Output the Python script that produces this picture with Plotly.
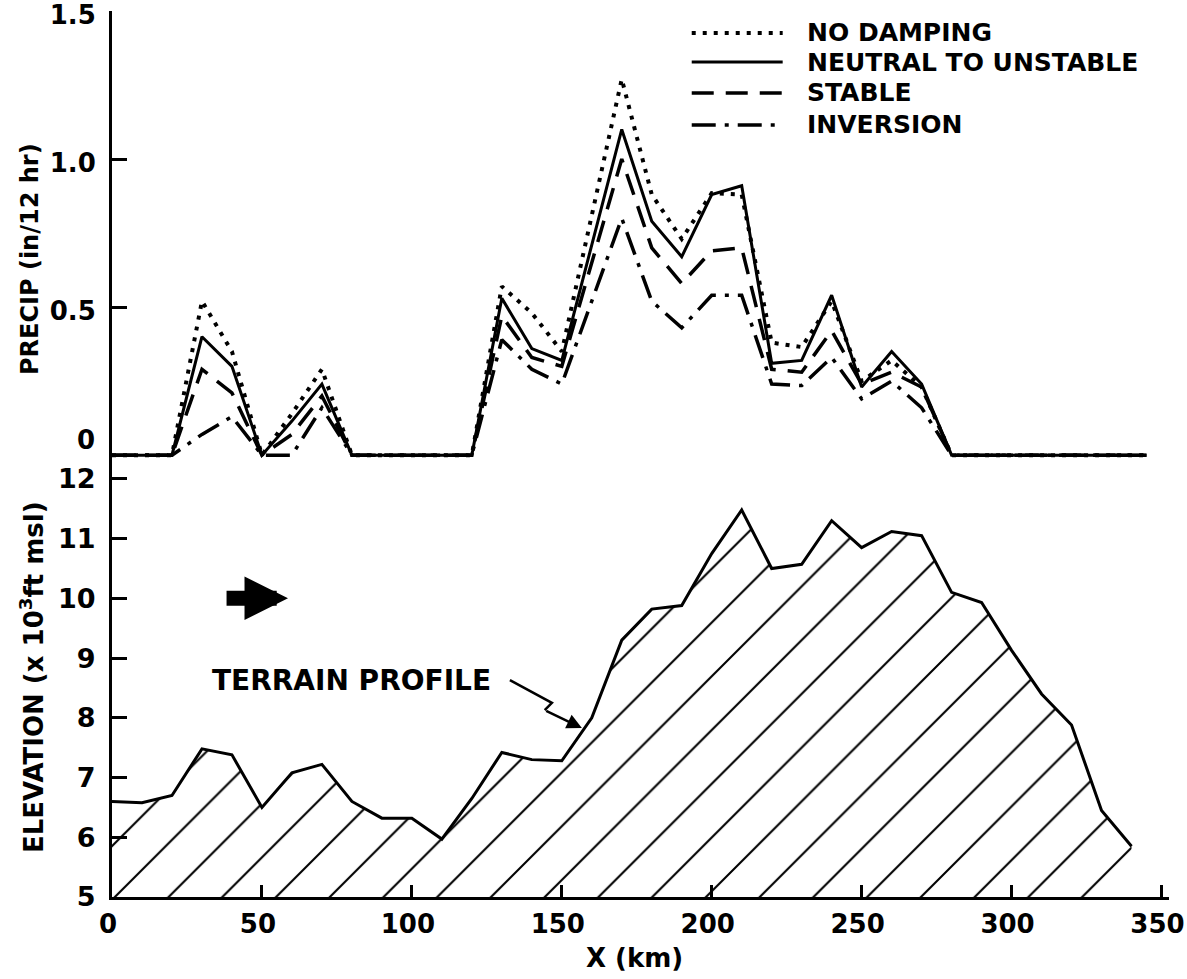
import plotly.graph_objects as go

# ---- precipitation along the cross-section (in / 12 hr) ----
PRECIP_KM = [0, 10, 20, 30, 40, 50, 60, 70, 80, 90, 100, 110, 120,
             130, 140, 150, 160, 170, 180, 190, 200, 210, 220, 230, 240,
             250, 260, 270, 280, 290, 300, 310, 320, 330, 340, 345]

NO_DAMPING = [0, 0, 0, 0.52, 0.35, 0, 0.14, 0.29, 0, 0, 0, 0, 0,
              0.57, 0.48, 0.35, 0.81, 1.27, 0.88, 0.73, 0.885, 0.88, 0.38, 0.365, 0.52,
              0.25, 0.32, 0.23, 0, 0, 0, 0, 0, 0, 0, 0]
NEUTRAL_TO_UNSTABLE = [0, 0, 0, 0.40, 0.30, 0, 0.115, 0.24, 0, 0, 0, 0, 0,
                       0.53, 0.36, 0.32, 0.71, 1.10, 0.79, 0.67, 0.88, 0.91, 0.31, 0.32, 0.54,
                       0.23, 0.35, 0.24, 0, 0, 0, 0, 0, 0, 0, 0]
STABLE = [0, 0, 0, 0.29, 0.21, 0, 0.07, 0.20, 0, 0, 0, 0, 0,
          0.47, 0.33, 0.30, 0.65, 1.00, 0.70, 0.58, 0.69, 0.70, 0.29, 0.28, 0.42,
          0.24, 0.28, 0.23, 0, 0, 0, 0, 0, 0, 0, 0]
INVERSION = [0, 0, 0, 0.07, 0.13, 0, 0, 0.16, 0, 0, 0, 0, 0,
             0.39, 0.29, 0.24, 0.52, 0.80, 0.52, 0.43, 0.54, 0.54, 0.24, 0.235, 0.33,
             0.19, 0.25, 0.16, 0, 0, 0, 0, 0, 0, 0, 0]

SERIES_NAMES = ["NO DAMPING", "NEUTRAL TO UNSTABLE", "STABLE", "INVERSION"]

# ---- terrain profile (x 10^3 ft msl) ----
TERRAIN_KM = [0, 10, 20, 30, 40, 50, 60, 70, 80, 90, 100, 110, 120, 130, 140, 150,
              160, 170, 180, 190, 200, 210, 220, 230, 240, 250, 260, 270, 280, 290,
              300, 310, 320, 330, 340]
ELEVATION = [6.6, 6.58, 6.7, 7.48, 7.38, 6.5, 7.08, 7.22, 6.6, 6.32, 6.32, 5.97, 6.65,
             7.42, 7.3, 7.28, 8.0, 9.3, 9.82, 9.88, 10.75, 11.48, 10.5, 10.57, 11.3,
             10.85, 11.12, 11.05, 10.1, 9.93, 9.13, 8.4, 7.88, 6.45, 5.85]

# ---- tick labels ----
X_TICKS = [0, 50, 100, 150, 200, 250, 300, 350]
PRECIP_TICKS = [0, 0.5, 1.0, 1.5]
PRECIP_TICKTEXT = ["", "0.5", "1.0", "1.5"]   # the "0" label sits a little higher, drawn below
ELEV_TICKS = [5, 6, 7, 8, 9, 10, 11, 12]

# ---- page geometry ----
FIG_W, FIG_H = 1187, 979
L, R, T, B = 112, 17.5, 11, 82
PW, PH = FIG_W - L - R, FIG_H - T - B
SPLIT = 0.482
FONT = "DejaVu Sans"


def px_x(px):
    return (px - L) / PW


def px_y(py):
    return 1 - (py - T) / PH


def font(size):
    return dict(family=FONT, size=size, color="black", weight="bold")


line_styles = {
    "NO DAMPING": dict(width=4, dash="4px,7px"),
    "NEUTRAL TO UNSTABLE": dict(width=3, dash="solid"),
    "STABLE": dict(width=3.5, dash="22px,12px"),
    "INVERSION": dict(width=3.5, dash="24px,9px,4px,9px"),
}
series = dict(zip(SERIES_NAMES, [NO_DAMPING, NEUTRAL_TO_UNSTABLE, STABLE, INVERSION]))

fig = go.Figure()

# draw order keeps the solid curve on top
for name in ["NO DAMPING", "INVERSION", "STABLE", "NEUTRAL TO UNSTABLE"]:
    st = line_styles[name]
    fig.add_trace(go.Scatter(
        x=PRECIP_KM, y=series[name], xaxis="x2", yaxis="y", mode="lines",
        line=dict(color="black", width=st["width"], dash=st["dash"]),
        name=name, showlegend=False, hoverinfo="skip"))

# hatched terrain
fig.add_trace(go.Scatter(
    x=TERRAIN_KM, y=ELEVATION, xaxis="x", yaxis="y2", mode="lines",
    line=dict(color="black", width=3),
    fill="tozeroy", fillcolor="white",
    fillpattern=dict(shape="/", size=38, solidity=0.055, fgcolor="black",
                     fgopacity=1, bgcolor="white"),
    showlegend=False, hoverinfo="skip"))

# pointer from the terrain label (with its little jog)
POINTER_KM = [132.7, 146.7, 144.3]
POINTER_EL = [8.63, 8.25, 8.13]
fig.add_trace(go.Scatter(x=POINTER_KM, y=POINTER_EL, xaxis="x", yaxis="y2", mode="lines",
                         line=dict(color="black", width=2.5), showlegend=False,
                         hoverinfo="skip"))

axis_common = dict(showline=True, linecolor="black", linewidth=3, ticks="inside",
                   tickcolor="black", tickwidth=3, showgrid=False, zeroline=False,
                   automargin=False, ticklabeloverflow="allow")

annotations = [
    dict(text="PRECIP (in/12 hr)", xref="paper", yref="paper", x=px_x(30), y=px_y(259),
         xanchor="center", yanchor="middle", textangle=-90, showarrow=False, font=font(24)),
    dict(text="ELEVATION (x 10<sup>3</sup>ft msl)", xref="paper", yref="paper",
         x=px_x(32), y=px_y(677), xanchor="center", yanchor="middle", textangle=-90,
         showarrow=False, font=font(26)),
    dict(text="X (km)", xref="paper", yref="paper", x=px_x(635), y=px_y(958),
         xanchor="center", yanchor="middle", showarrow=False, font=font(26)),
    # zero label of the precipitation axis
    dict(text="0", xref="paper", yref="paper", x=px_x(97), y=px_y(440),
         xanchor="right", yanchor="middle", showarrow=False, font=font(26)),
    dict(text="TERRAIN PROFILE", xref="x", yref="y2", x=80, y=8.63, xanchor="center",
         yanchor="middle", showarrow=False, font=font(28)),
    # arrow head of the terrain pointer
    dict(text="", xref="x", yref="y2", x=156.7, y=7.83, axref="x", ayref="y2",
         ax=144.3, ay=8.13, showarrow=True, arrowhead=2, arrowsize=1.2, arrowwidth=2.5,
         arrowcolor="black"),
    # wind-direction arrow
    dict(text="", xref="x", yref="y2", x=58.7, y=10.0, axref="x", ayref="y2",
         ax=37.7, ay=10.0, showarrow=True, arrowhead=2, arrowsize=0.58, arrowwidth=15,
         arrowcolor="black"),
]

# legend drawn as line samples and labels
LEG_ROWS_PX = [33, 62, 93, 125]
shapes = []
for name, py in zip(SERIES_NAMES, LEG_ROWS_PX):
    st = line_styles[name]
    shapes.append(dict(type="line", xref="paper", yref="paper",
                       x0=px_x(692), x1=px_x(783), y0=px_y(py), y1=px_y(py),
                       line=dict(color="black", width=st["width"], dash=st["dash"])))
    annotations.append(dict(text=name, xref="paper", yref="paper", x=px_x(805), y=px_y(py),
                            xanchor="left", yanchor="middle", showarrow=False,
                            font=font(25)))

fig.update_layout(
    width=FIG_W, height=FIG_H,
    margin=dict(l=L, r=R, t=T, b=B, pad=0, autoexpand=False),
    paper_bgcolor="white", plot_bgcolor="white",
    showlegend=False,
    xaxis=dict(domain=[0, 1], anchor="y2", range=[0, 352.5], tickvals=X_TICKS,
               ticklen=12, ticklabelstandoff=2, ticklabelshift=-4, tickfont=font(26),
               **axis_common),
    xaxis2=dict(domain=[0, 1], anchor="y", matches="x", visible=False),
    yaxis=dict(domain=[SPLIT, 1], anchor="x2", range=[-0.05, 1.5], tickvals=PRECIP_TICKS,
               ticktext=PRECIP_TICKTEXT, ticklen=15, ticklabelstandoff=8,
               ticklabelshift=4, tickfont=font(26), **axis_common),
    yaxis2=dict(domain=[0, SPLIT], anchor="x", range=[5, 12.15], tickvals=ELEV_TICKS,
                ticklen=15, ticklabelstandoff=8, tickfont=font(27), **axis_common),
    annotations=annotations,
    shapes=shapes,
)

fig.write_html("out.html")
